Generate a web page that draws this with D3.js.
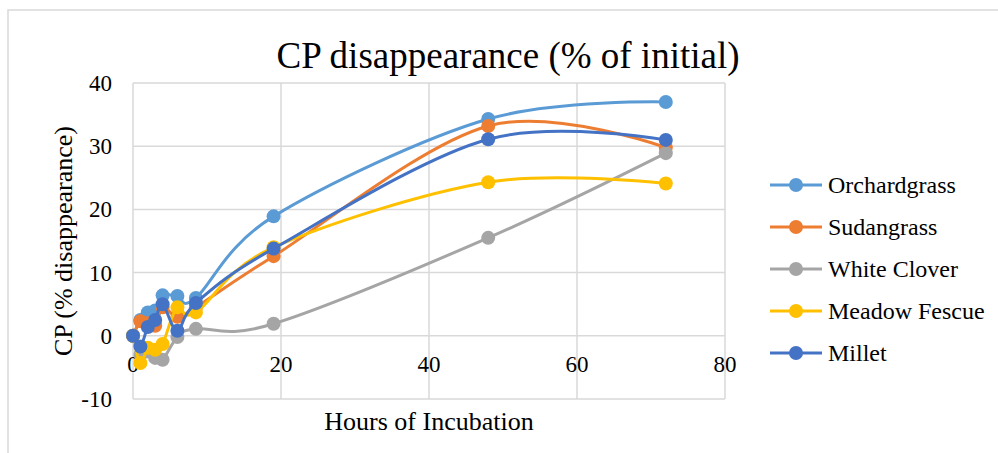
<!DOCTYPE html>
<html>
<head>
<meta charset="utf-8">
<script src="https://cdn.jsdelivr.net/npm/d3@7"></script>
<style>
  body { margin: 0; background: #fff; }
  text { font-family: "Liberation Serif", "Times New Roman", serif; fill: #000; }
</style>
</head>
<body>
<svg id="chart" width="998" height="453"></svg>
<script>
// hours of incubation
const hours = [0, 1, 2, 3, 4, 6, 8.5, 19, 48, 72];

const orchardgrass = [0, 2.5, 3.7, 4.0, 6.4, 6.3, 6.0, 18.9, 34.3, 37.0];
const sudangrass   = [0, 2.3, 2.0, 1.6, 4.5, 3.0, 4.5, 12.6, 33.2, 29.8];
const whiteClover  = [0, -3.0, -2.5, -3.5, -3.8, -0.2, 1.1, 1.9, 15.5, 28.9];
const meadowFescue = [0, -4.3, -1.9, -2.2, -1.3, 4.5, 3.7, 14.0, 24.3, 24.1];
const millet       = [0, -1.7, 1.4, 2.5, 5.0, 0.8, 5.2, 13.8, 31.1, 31.0];

const seriesNames = ["Orchardgrass", "Sudangrass", "White Clover", "Meadow Fescue", "Millet"];
const seriesValues = [orchardgrass, sudangrass, whiteClover, meadowFescue, millet];
const colors = ["#5B9BD5", "#ED7D31", "#A5A5A5", "#FFC000", "#4472C4"];

const xTicks = [0, 20, 40, 60, 80];
const yTicks = [-10, 0, 10, 20, 30, 40];

const svg = d3.select("#chart");
const margin = {top: 83, left: 133, right: 273, bottom: 54};
const W = 998, H = 453;

const x = d3.scaleLinear().domain([0, 80]).range([margin.left, W - margin.right]);
const y = d3.scaleLinear().domain([-10, 40]).range([H - margin.bottom, margin.top]);

// outer border
svg.append("rect")
  .attr("x", 8).attr("y", 10)
  .attr("width", W).attr("height", H)
  .attr("fill", "none").attr("stroke", "#d9d9d9").attr("stroke-width", 1.5);

// title
svg.append("text")
  .attr("x", 508).attr("y", 68)
  .attr("text-anchor", "middle")
  .style("font-size", "37px")
  .text("CP disappearance (% of initial)");

// grid
const grid = svg.append("g");
grid.selectAll("line.h").data(yTicks).enter().append("line")
  .attr("x1", x(0)).attr("x2", x(80))
  .attr("y1", d => y(d)).attr("y2", d => y(d))
  .attr("stroke", "#d9d9d9").attr("stroke-width", 1.5);
grid.selectAll("line.v").data(xTicks).enter().append("line")
  .attr("x1", d => x(d)).attr("x2", d => x(d))
  .attr("y1", y(-10)).attr("y2", y(40))
  .attr("stroke", "#d9d9d9").attr("stroke-width", 1.5);

// y tick labels
svg.append("g").selectAll("text").data(yTicks).enter().append("text")
  .attr("x", 112).attr("y", d => y(d))
  .attr("dy", "0.35em")
  .attr("text-anchor", "end")
  .style("font-size", "23px")
  .text(d => d);

// x tick labels (axis crosses at 0)
svg.append("g").selectAll("text").data(xTicks).enter().append("text")
  .attr("x", d => x(d)).attr("y", y(0) + 28)
  .attr("dy", "0.35em")
  .attr("text-anchor", "middle")
  .style("font-size", "23px")
  .text(d => d);

// axis titles
svg.append("text")
  .attr("transform", "translate(63," + ((y(40) + y(-10)) / 2) + ") rotate(-90)")
  .attr("dy", "0.35em")
  .attr("text-anchor", "middle")
  .style("font-size", "26px")
  .text("CP (% disappearance)");

svg.append("text")
  .attr("x", (x(0) + x(80)) / 2).attr("y", 421)
  .attr("dy", "0.35em")
  .attr("text-anchor", "middle")
  .style("font-size", "26px")
  .text("Hours of Incubation");

// series
const line = d3.line()
  .x(d => x(d[0])).y(d => y(d[1]))
  .curve(d3.curveCardinal.tension(0));

seriesValues.forEach((vals, i) => {
  const pts = hours.map((h, j) => [h, vals[j]]);
  const g = svg.append("g");
  g.append("path")
    .datum(pts)
    .attr("d", line)
    .attr("fill", "none")
    .attr("stroke", colors[i])
    .attr("stroke-width", 3)
    .attr("stroke-linecap", "round");
  g.selectAll("circle").data(pts).enter().append("circle")
    .attr("cx", d => x(d[0])).attr("cy", d => y(d[1]))
    .attr("r", 7)
    .attr("fill", colors[i]);
});

// legend
const legend = svg.append("g");
seriesNames.forEach((name, i) => {
  const ly = 185 + i * 42;
  legend.append("line")
    .attr("x1", 770).attr("x2", 822).attr("y1", ly).attr("y2", ly)
    .attr("stroke", colors[i]).attr("stroke-width", 3);
  legend.append("circle")
    .attr("cx", 796).attr("cy", ly).attr("r", 7).attr("fill", colors[i]);
  legend.append("text")
    .attr("x", 828).attr("y", ly)
    .attr("dy", "0.35em")
    .style("font-size", "24px")
    .text(name);
});
</script>
</body>
</html>
